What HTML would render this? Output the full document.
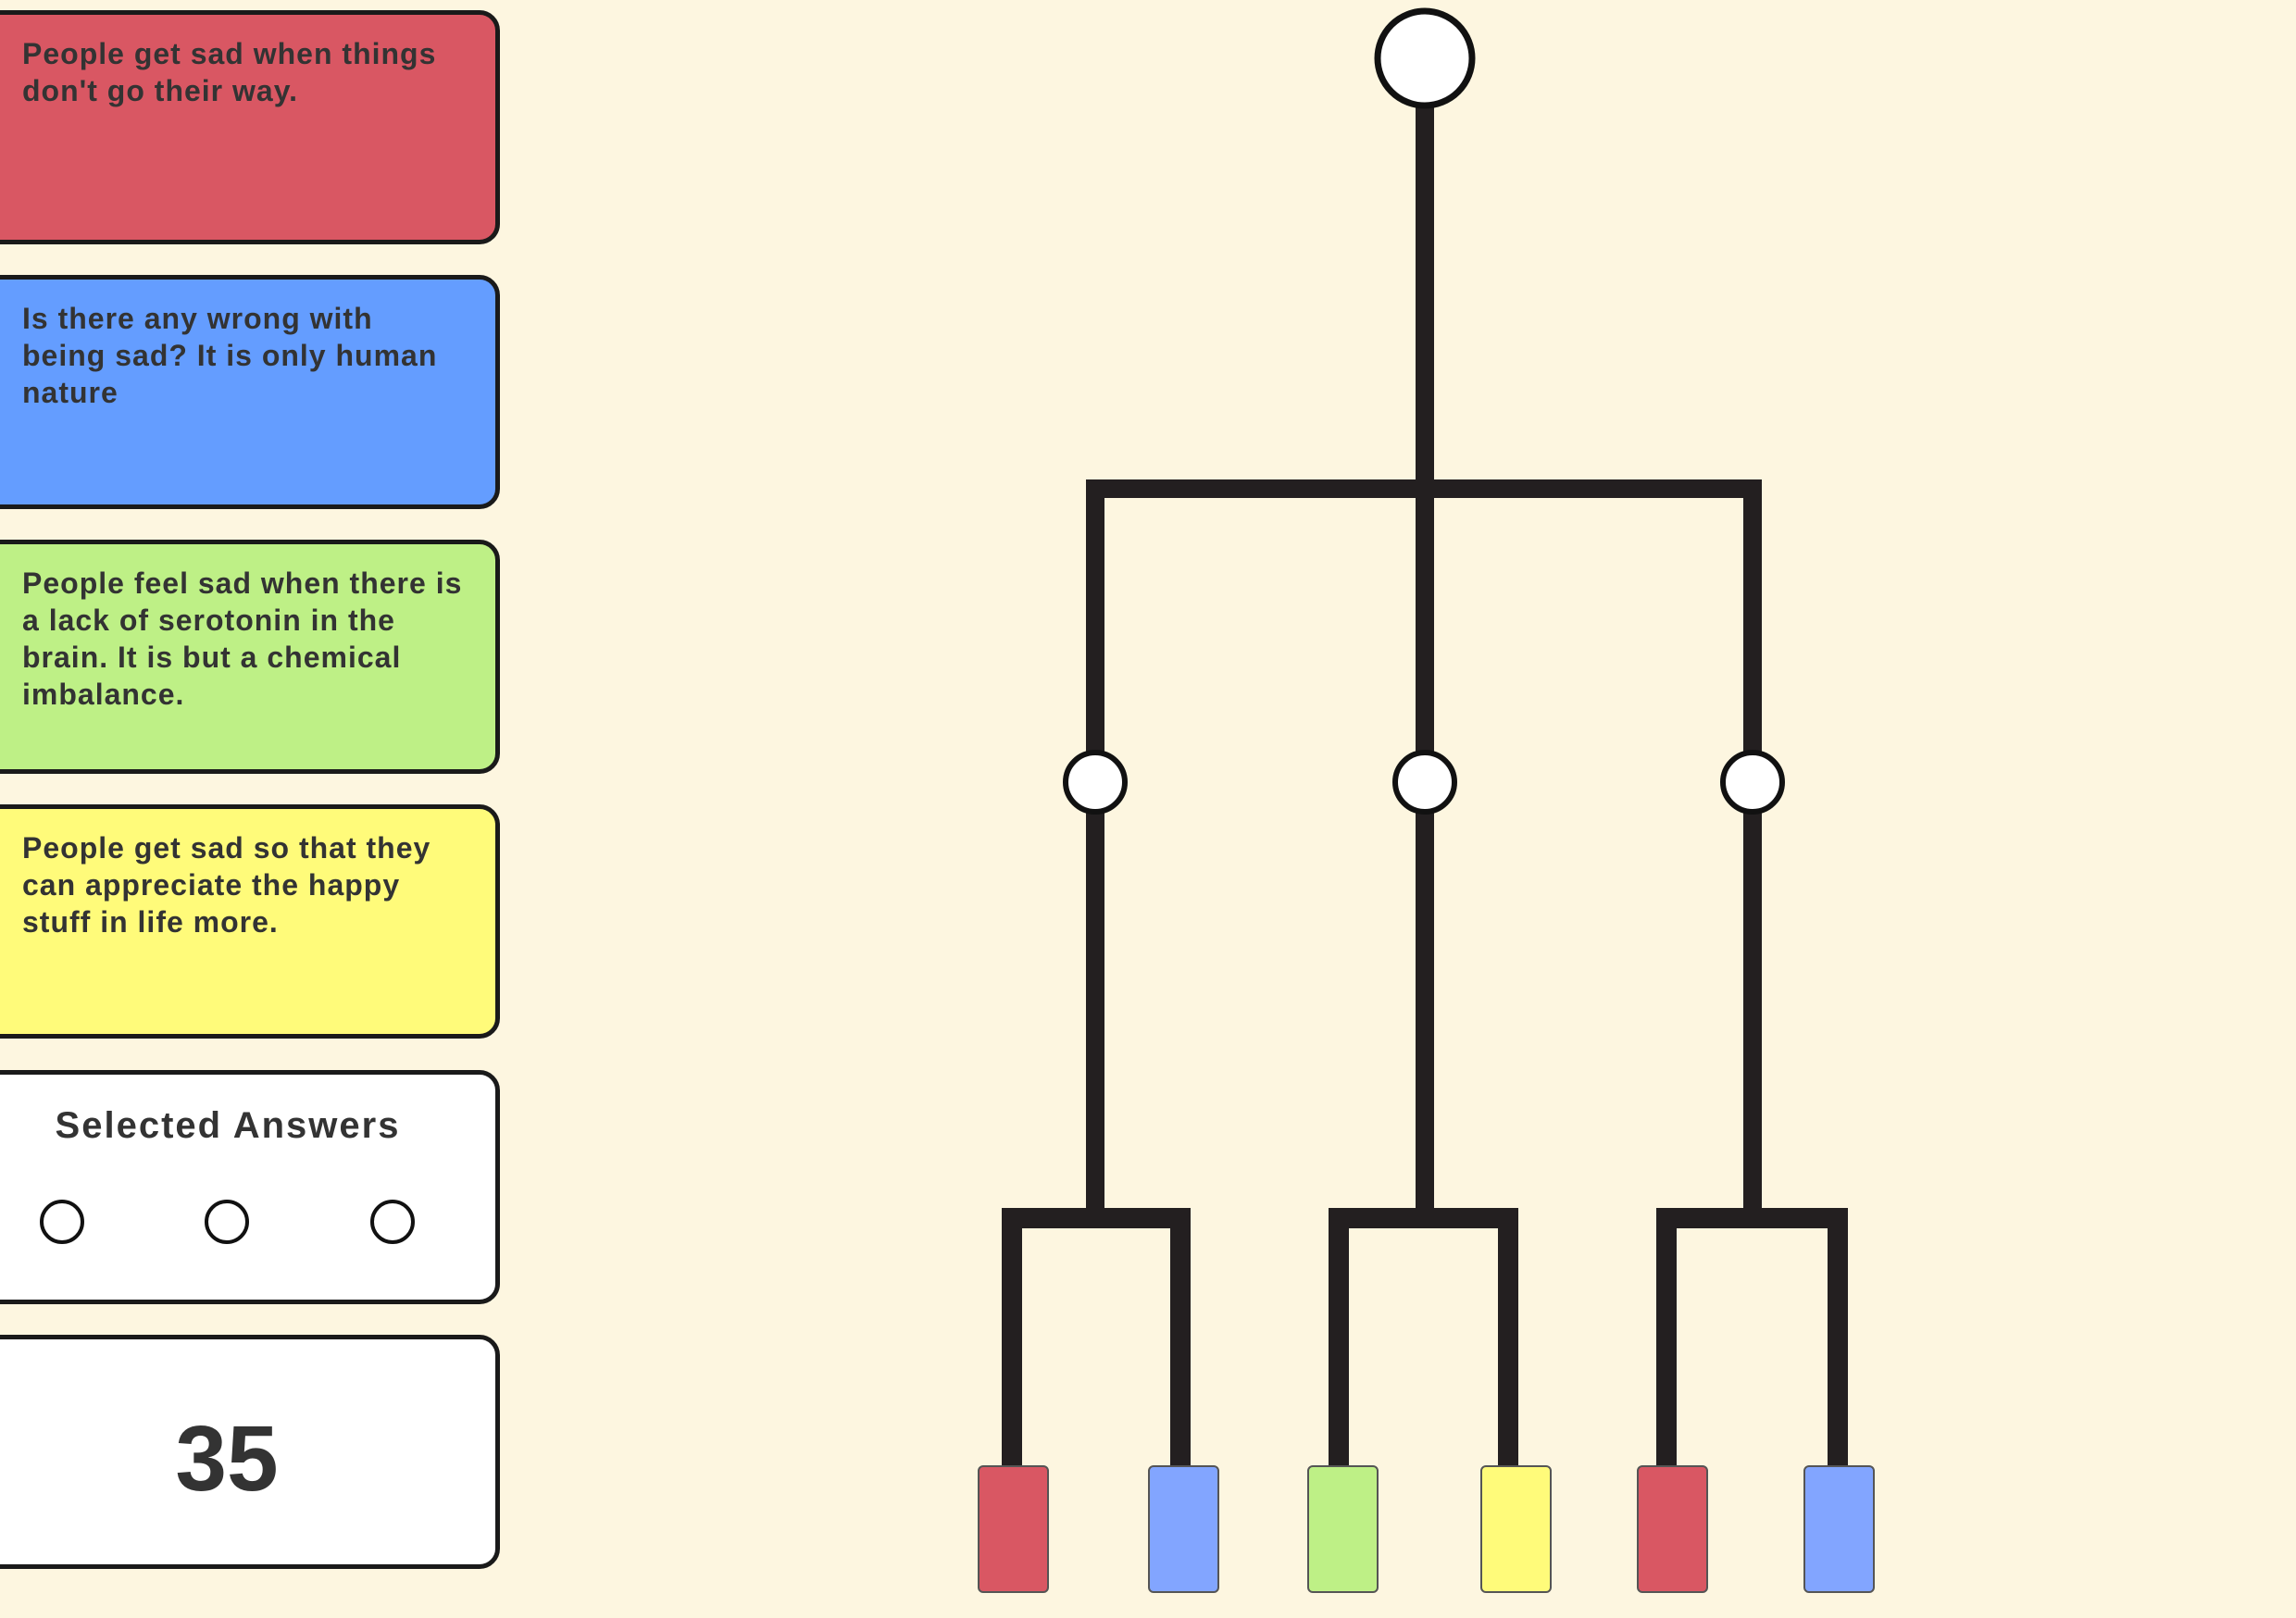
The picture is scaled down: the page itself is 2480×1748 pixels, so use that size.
<!DOCTYPE html>
<html><head><meta charset="utf-8"><style>
html,body{margin:0;padding:0;background:#fdf6e0;}
body{width:2480px;height:1748px;overflow:hidden;position:relative;font-family:"Liberation Sans",sans-serif;}
.card{position:absolute;left:-10px;width:540px;height:243px;border:5px solid #1a1a1a;border-radius:0 22px 22px 0;box-sizing:content-box;}
.t{position:absolute;left:29px;top:22px;font-size:32px;line-height:40px;font-weight:bold;color:#333;letter-spacing:1px;}
</style></head><body>
<div class="card" style="top:11px;background:#d95763"><div class="t">People get sad when things<br>don't go their way.</div></div>
<div class="card" style="top:297px;background:#649dff"><div class="t">Is there any wrong with<br>being sad? It is only human<br>nature</div></div>
<div class="card" style="top:583px;background:#bef086"><div class="t">People feel sad when there is<br>a lack of serotonin in the<br>brain. It is but a chemical<br>imbalance.</div></div>
<div class="card" style="top:869px;background:#fffb7a"><div class="t">People get sad so that they<br>can appreciate the happy<br>stuff in life more.</div></div>
<div class="card" style="top:1156px;background:#fff"></div>
<div class="card" style="top:1442px;background:#fff"></div>
<svg width="2480" height="1748" style="position:absolute;left:0;top:0">
<text x="246" y="1229" font-size="40" font-weight="bold" fill="#333" text-anchor="middle" font-family="Liberation Sans, sans-serif" letter-spacing="2">Selected Answers</text>
<g fill="none" stroke="#111" stroke-width="4"><circle cx="67" cy="1320" r="22"/><circle cx="245" cy="1320" r="22"/><circle cx="424" cy="1320" r="22"/></g>
<text x="245" y="1610" font-size="100" font-weight="bold" fill="#333" text-anchor="middle" font-family="Liberation Sans, sans-serif">35</text>
<g stroke="#231f20" stroke-width="20" fill="none">
<line x1="1539" y1="100" x2="1539" y2="1316"/>
<polyline points="1183,845 1183,528 1893,528 1893,845"/>
<line x1="1183" y1="845" x2="1183" y2="1316"/>
<line x1="1893" y1="845" x2="1893" y2="1316"/>
</g>
<g stroke="#231f20" stroke-width="22" fill="none">
<polyline points="1093,1590 1093,1316 1275,1316 1275,1590"/>
<polyline points="1446,1590 1446,1316 1629,1316 1629,1590"/>
<polyline points="1800,1590 1800,1316 1985,1316 1985,1590"/>
</g>
<circle cx="1539" cy="63" r="51" fill="#fff" stroke="#111" stroke-width="7"/>
<g fill="#fff" stroke="#111" stroke-width="6"><circle cx="1183" cy="845" r="32"/><circle cx="1539" cy="845" r="32"/><circle cx="1893" cy="845" r="32"/></g>
<g stroke="#555" stroke-width="2">
<rect x="1057" y="1584" width="75" height="136" rx="5" fill="#d95763"/>
<rect x="1241" y="1584" width="75" height="136" rx="5" fill="#82a5ff"/>
<rect x="1413" y="1584" width="75" height="136" rx="5" fill="#bef086"/>
<rect x="1600" y="1584" width="75" height="136" rx="5" fill="#fffb7a"/>
<rect x="1769" y="1584" width="75" height="136" rx="5" fill="#d95763"/>
<rect x="1949" y="1584" width="75" height="136" rx="5" fill="#82a5ff"/>
</g>
</svg>
</body></html>
